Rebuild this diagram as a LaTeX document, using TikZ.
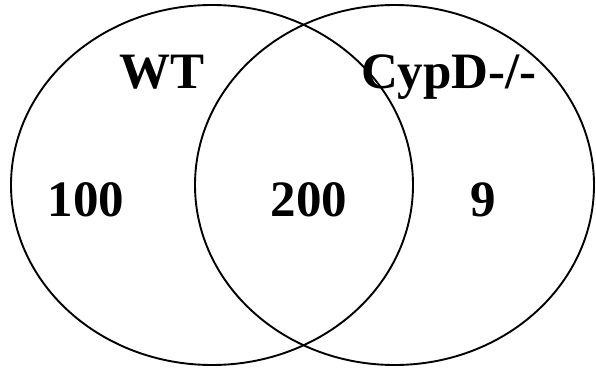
\documentclass[tikz,border=0pt]{standalone}
\usepackage{fontspec}
\setmainfont{Liberation Serif}
\usetikzlibrary{shapes.geometric}
\begin{document}
\begin{tikzpicture}[x=1pt,y=-1pt,
  setring/.style={draw=black, ellipse, line width=1.9pt, inner sep=0pt},
  setlabel/.style={anchor=base, inner sep=0pt, font=\fontsize{51}{51}\selectfont\bfseries}]
  \useasboundingbox (0,0) rectangle (596,371);
  % the two sets
  \node[setring, minimum width=402pt, minimum height=360pt] (wt) at (212,185) {};
  \node[setring, minimum width=399pt, minimum height=360pt] (cypd) at (394.5,185) {};
  % set names
  \node[setlabel] (wtname) at (162,89) {WT};
  \node[setlabel] (cypdname) at (449,89) {CypD-/-};
  % counts per region
  \node[setlabel] (onlywt) at (86,217) {100};
  \node[setlabel] (both) at (309,217) {200};
  \node[setlabel] (onlycypd) at (483,217) {9};
\end{tikzpicture}
\end{document}
